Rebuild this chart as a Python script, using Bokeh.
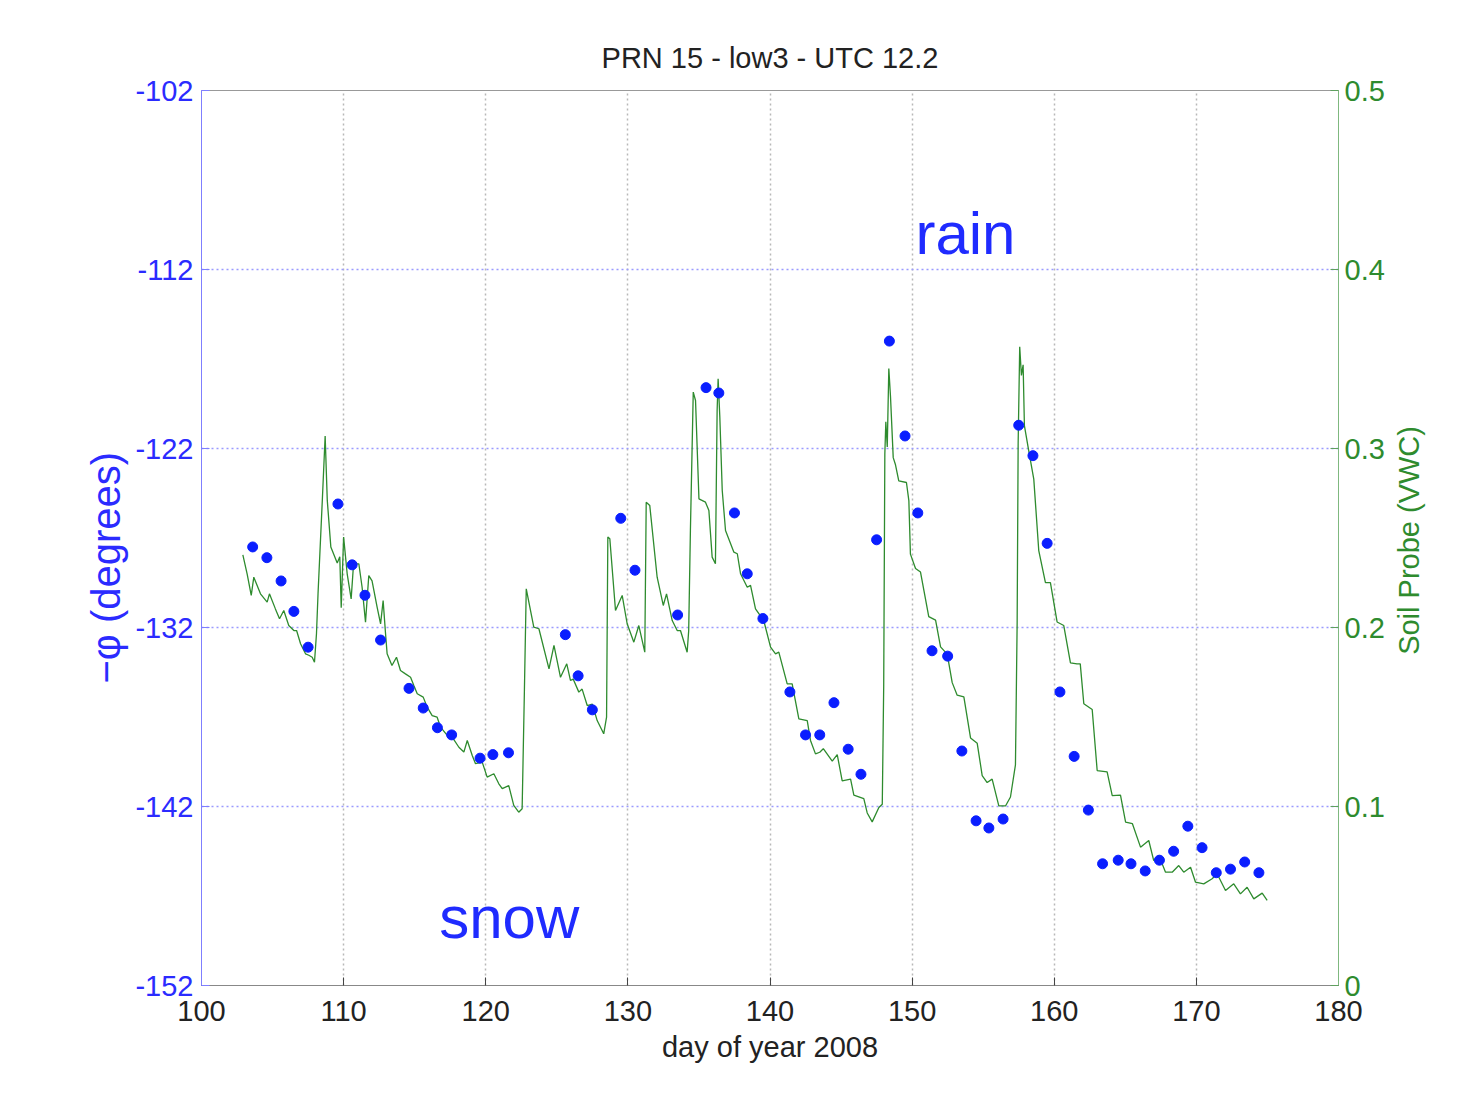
import math
from bokeh.plotting import figure
from bokeh.layouts import row
from bokeh.models import Range1d, LinearAxis, FixedTicker, Label, Title
from bokeh.embed import file_html
from bokeh.resources import INLINE

# ---- data ----
phi_day = [103.6, 104.6, 105.6, 106.5, 107.5, 109.6, 110.6, 111.5, 112.6, 114.6, 115.6, 116.6, 117.6,
           119.6, 120.5, 121.6, 125.6, 126.5, 127.5, 129.5, 130.5, 133.5, 135.5, 136.4, 137.5, 138.4,
           139.5, 141.4, 142.5, 143.5, 144.5, 145.5, 146.4, 147.5, 148.4, 149.5, 150.4, 151.4, 152.5,
           153.5, 154.5, 155.4, 156.4, 157.5, 158.5, 159.5, 160.4, 161.4, 162.4, 163.4, 164.5, 165.4,
           166.4, 167.4, 168.4, 169.4, 170.4, 171.4, 172.4, 173.4, 174.4]
phi_deg = [-127.5, -128.1, -129.4, -131.1, -133.1, -125.1, -128.5, -130.2, -132.7, -135.4, -136.5, -137.6, -138.0,
           -139.3, -139.1, -139.0, -132.4, -134.7, -136.6, -125.9, -128.8, -131.3, -118.6, -118.9, -125.6, -129.0,
           -131.5, -135.6, -138.0, -138.0, -136.2, -138.8, -140.2, -127.1, -116.0, -121.3, -125.6, -133.3, -133.6,
           -138.9, -142.8, -143.2, -142.7, -120.7, -122.4, -127.3, -135.6, -139.2, -142.2, -145.2, -145.0, -145.2,
           -145.6, -145.0, -144.5, -143.1, -144.3, -145.7, -145.5, -145.1, -145.7]

soil_day = [102.91, 103.21, 103.50, 103.68, 104.15, 104.62, 104.78, 105.20, 105.49, 105.79, 106.14, 106.50,
            106.69, 106.97, 107.32, 107.55, 107.79, 107.95, 108.09, 108.20, 108.50, 108.70, 108.85, 109.10,
            109.55, 109.73, 109.83, 110.00, 110.25, 110.53, 110.70, 111.07, 111.30, 111.54, 111.77, 112.00,
            112.36, 112.60, 112.78, 112.95, 113.06, 113.40, 113.72, 114.00, 114.35, 114.71, 114.94, 115.18,
            115.60, 115.88, 116.23, 116.58, 116.82, 117.29, 117.64, 118.11, 118.46, 118.70, 119.05, 119.28,
            119.75, 120.10, 120.57, 120.92, 121.16, 121.62, 121.97, 122.32, 122.56, 122.72, 122.85, 123.38,
            123.74, 124.45, 124.80, 125.26, 125.70, 125.96, 126.15, 126.55, 126.78, 127.14, 127.50, 127.84,
            128.30, 128.50, 128.59, 128.73, 129.13, 129.60, 129.95, 130.42, 130.77, 131.19, 131.29, 131.54,
            132.06, 132.49, 132.72, 133.12, 133.47, 133.70, 134.17, 134.28, 134.40, 134.60, 134.76, 135.00,
            135.46, 135.70, 135.93, 136.16, 136.28, 136.35, 136.47, 136.64, 136.87, 137.46, 137.70, 137.93,
            138.40, 138.63, 138.98, 139.56, 140.04, 140.39, 140.62, 141.21, 141.56, 142.03, 142.62, 142.85,
            143.20, 143.50, 143.75, 144.38, 144.73, 145.08, 145.67, 145.90, 146.60, 146.84, 147.19, 147.66,
            147.90, 148.00, 148.08, 148.15, 148.25, 148.36, 148.48, 148.67, 148.83, 149.06, 149.60, 149.77,
            149.88, 150.24, 150.59, 151.17, 151.65, 152.00, 152.47, 152.82, 153.17, 153.64, 154.11, 154.58,
            154.93, 155.28, 155.63, 156.10, 156.57, 156.92, 157.27, 157.39, 157.46, 157.57, 157.69, 157.81,
            157.90, 158.20, 158.56, 158.91, 159.38, 159.73, 160.20, 160.67, 161.14, 161.60, 161.83, 162.08,
            162.67, 163.02, 163.72, 164.08, 164.66, 165.02, 165.50, 166.07, 166.65, 167.00, 167.36, 167.83,
            168.30, 168.76, 169.11, 169.59, 169.94, 170.52, 171.11, 171.46, 172.05, 172.63, 173.10, 173.57,
            174.04, 174.63, 174.98]
soil_vwc = [0.2406, 0.2300, 0.2179, 0.2281, 0.2188, 0.2142, 0.2188, 0.2104, 0.2049, 0.2095, 0.2011, 0.1983,
            0.1983, 0.1909, 0.1853, 0.1845, 0.1834, 0.1806, 0.1965, 0.2190, 0.2710, 0.3070, 0.2710, 0.2450,
            0.2360, 0.2395, 0.2110, 0.2505, 0.2300, 0.2160, 0.2356, 0.2356, 0.2225, 0.2030, 0.2290, 0.2260,
            0.2113, 0.2020, 0.2150, 0.1965, 0.1853, 0.1788, 0.1834, 0.1760, 0.1741, 0.1722, 0.1676, 0.1630,
            0.1611, 0.1555, 0.1508, 0.1499, 0.1443, 0.1397, 0.1387, 0.1331, 0.1304, 0.1369, 0.1285, 0.1239,
            0.1248, 0.1164, 0.1183, 0.1127, 0.1100, 0.1117, 0.1006, 0.0968, 0.0987, 0.1648, 0.2216, 0.2002,
            0.1993, 0.1769, 0.1900, 0.1722, 0.1797, 0.1704, 0.1712, 0.1639, 0.1656, 0.1564, 0.1572, 0.1480,
            0.1406, 0.1499, 0.2505, 0.2496, 0.2095, 0.2179, 0.2021, 0.1918, 0.2011, 0.1862, 0.2700, 0.2682,
            0.2281, 0.2123, 0.2188, 0.2039, 0.1983, 0.1983, 0.1862, 0.1983, 0.2542, 0.3315, 0.3268, 0.2719,
            0.2700, 0.2654, 0.2393, 0.2356, 0.3212, 0.3389, 0.3175, 0.2765, 0.2542, 0.2421, 0.2412, 0.2300,
            0.2225, 0.2235, 0.2104, 0.2039, 0.1890, 0.1853, 0.1862, 0.1685, 0.1685, 0.1490, 0.1480, 0.1369,
            0.1294, 0.1303, 0.1323, 0.1253, 0.1290, 0.1143, 0.1153, 0.1064, 0.1044, 0.0964, 0.0914, 0.0994,
            0.1013, 0.1672, 0.2969, 0.3149, 0.3009, 0.3447, 0.3288, 0.2949, 0.2909, 0.2819, 0.2810, 0.2709,
            0.2410, 0.2330, 0.2310, 0.2061, 0.2041, 0.1892, 0.1851, 0.1692, 0.1622, 0.1612, 0.1383, 0.1353,
            0.1173, 0.1134, 0.1153, 0.1003, 0.1003, 0.1053, 0.1233, 0.2031, 0.3029, 0.3568, 0.3408, 0.3468,
            0.3128, 0.2989, 0.2829, 0.2430, 0.2251, 0.2251, 0.2031, 0.2011, 0.1802, 0.1797, 0.1797, 0.1574,
            0.1542, 0.1201, 0.1194, 0.1061, 0.1064, 0.0913, 0.0904, 0.0773, 0.0810, 0.0698, 0.0726, 0.0633,
            0.0633, 0.0670, 0.0633, 0.0661, 0.0577, 0.0568, 0.0596, 0.0624, 0.0531, 0.0568, 0.0512, 0.0549,
            0.0484, 0.0516, 0.0475]

x_ticks = [100, 110, 120, 130, 140, 150, 160, 170, 180]
left_ticks = [-152, -142, -132, -122, -112, -102]
right_ticks = [0, 0.1, 0.2, 0.3, 0.4, 0.5]
right_labels = ["0", "0.1", "0.2", "0.3", "0.4", "0.5"]

FONT = "Liberation Sans"
BLUE = "#2b2bff"
GREEN = "#2e8b2e"
FS = "29px"

MAIN_W = 1392
SIDE_W = 1458 - MAIN_W
H = 1100

p = figure(width=MAIN_W, height=H, output_backend="svg", toolbar_location=None,
           x_range=Range1d(100, 180), y_range=Range1d(-152, -102),
           min_border_left=201, min_border_right=MAIN_W - 1338, min_border_top=90, min_border_bottom=115,
           title="PRN 15 - low3 - UTC 12.2")
p.extra_y_ranges = {"vwc": Range1d(0, 0.5)}

p.title.align = "center"
p.title.text_font = FONT
p.title.text_font_size = FS
p.title.text_font_style = "normal"
p.title.text_color = "#222222"
p.title.standoff = 33

p.outline_line_color = "#999999"
p.background_fill_color = "white"
p.border_fill_color = "white"

# x axis
xa = p.xaxis[0]
xa.ticker = FixedTicker(ticks=x_ticks)
xa.axis_label = "day of year 2008"
xa.axis_label_text_font = FONT
xa.axis_label_text_font_size = FS
xa.axis_label_text_font_style = "normal"
xa.axis_label_text_color = "#222222"
xa.axis_label_standoff = 7
xa.major_label_text_font = FONT
xa.major_label_text_font_size = FS
xa.major_label_text_color = "#222222"
xa.major_label_standoff = 15
xa.axis_line_color = "#888888"
xa.major_tick_in = 8
xa.major_tick_out = 0
xa.major_tick_line_color = "#444444"
xa.minor_tick_line_color = None

# left axis
ya = p.yaxis[0]
ya.ticker = FixedTicker(ticks=left_ticks)
ya.major_label_overrides = {t: str(t) for t in left_ticks}
ya.major_label_text_font = FONT
ya.major_label_text_font_size = FS
ya.major_label_text_color = BLUE
ya.major_label_standoff = 8
ya.axis_line_color = "#7f7fff"
ya.major_tick_in = 8
ya.major_tick_out = 0
ya.major_tick_line_color = "#7f7fff"
ya.minor_tick_line_color = None

# left axis title, reading bottom to top
p.add_layout(Title(text="\u2212\u03c6 (degrees)", align="left", offset=302, standoff=10,
                   text_font=FONT, text_font_size="40px", text_font_style="normal",
                   text_color=BLUE), "left")

# right axis
ra = LinearAxis(y_range_name="vwc", ticker=FixedTicker(ticks=right_ticks),
                major_label_overrides={t: s for t, s in zip(right_ticks, right_labels)})
ra.major_label_text_font = FONT
ra.major_label_text_font_size = FS
ra.major_label_text_color = GREEN
ra.major_label_standoff = 6
ra.axis_line_color = "#7fb87f"
ra.major_tick_in = 8
ra.major_tick_out = 0
ra.major_tick_line_color = "#5fa05f"
ra.minor_tick_line_color = None
p.add_layout(ra, "right")

# grids
p.xgrid.grid_line_color = "#b8b8b8"
p.xgrid.grid_line_dash = "2 3"
p.xgrid.grid_line_width = 1.5
p.ygrid.grid_line_color = "#9a9aff"
p.ygrid.grid_line_dash = "2 3"
p.ygrid.grid_line_width = 1.5

# data
p.line(soil_day, soil_vwc, y_range_name="vwc", line_color=GREEN, line_width=1.3)
p.scatter(phi_day, phi_deg, size=10, color="#0a1eff", line_color="#0a1eff")

# annotations
p.add_layout(Label(x=153.75, y=-110.0, text="rain", text_align="center", text_baseline="alphabetic",
                   text_font=FONT, text_font_size="60px", text_color="#1f2bff"))
p.add_layout(Label(x=121.65, y=-148.2, text="snow", text_align="center", text_baseline="alphabetic",
                   text_font=FONT, text_font_size="60px", text_color="#1f2bff"))

# narrow strip on the right carrying the right-axis title (reads bottom to top)
side = figure(width=SIDE_W, height=H, output_backend="svg", toolbar_location=None,
              x_range=Range1d(0, SIDE_W), y_range=Range1d(0, H),
              x_axis_location=None, y_axis_location=None, min_border=0)
side.outline_line_color = None
side.xgrid.visible = False
side.ygrid.visible = False
side.background_fill_color = "white"
side.border_fill_color = "white"
side.add_layout(Label(x=1408 - MAIN_W, y=H - 553, text="Soil Probe (VWC)", angle=math.pi / 2,
                      text_align="center", text_baseline="middle",
                      text_font=FONT, text_font_size=FS, text_color=GREEN))

layout = row(p, side, spacing=0)
open("out.html", "w").write(file_html(layout, INLINE))
